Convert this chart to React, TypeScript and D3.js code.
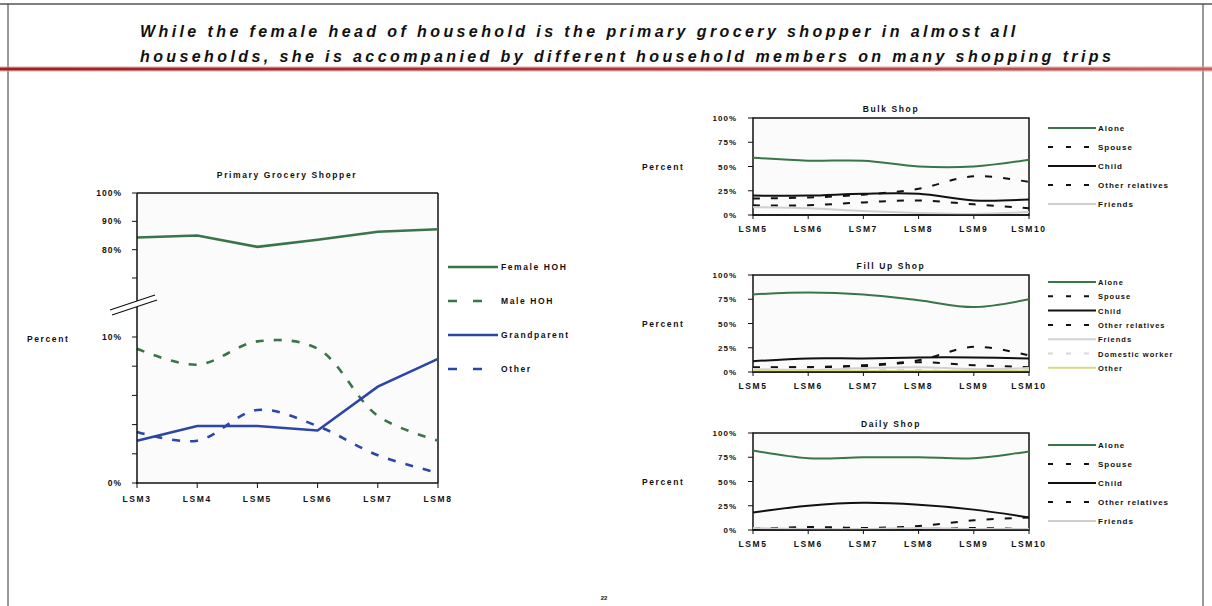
import React from 'react';
import * as d3 from 'd3';

// ---- Primary grocery shopper (LSM3 – LSM8) ----
const lsmLeft = ['LSM3', 'LSM4', 'LSM5', 'LSM6', 'LSM7', 'LSM8'];
const femaleHOH = [84.3, 85, 81, 83.5, 86.3, 87.2];
const maleHOH = [9.2, 8.1, 9.7, 9.2, 4.6, 2.9];
const grandparent = [2.9, 3.9, 3.9, 3.6, 6.6, 8.5];
const otherShopper = [3.5, 2.9, 5.0, 3.9, 1.9, 0.7];
const leftUpperTicks = [100, 90, 80, 70];
const leftUpperLabels = ['100%', '90%', '80%', ''];
const leftLowerTicks = [10, 8, 6, 4, 2, 0];
const leftLowerLabels = ['10%', '', '', '', '', '0%'];

// ---- Shopping companions (LSM5 – LSM10) ----
const lsmRight = ['LSM5', 'LSM6', 'LSM7', 'LSM8', 'LSM9', 'LSM10'];
const pctTicks = [0, 25, 50, 75, 100];

const bulkAlone = [59, 56, 56, 50, 50, 57];
const bulkSpouse = [17, 18, 21, 27, 40, 34];
const bulkChild = [20, 20, 22, 22, 15, 16];
const bulkOtherRelatives = [10, 10, 13, 15, 11, 7];
const bulkFriends = [8, 7, 4, 2, 1, 3];

const fillAlone = [80, 82, 80, 74, 67, 75];
const fillSpouse = [5, 5, 7, 12, 26, 17];
const fillChild = [11, 14, 14, 15, 15, 14];
const fillOtherRelatives = [4, 5, 6, 10, 7, 5];
const fillFriends = [3, 2, 4, 5, 3, 4];
const fillDomestic = [3, 3, 2, 2, 1, 2];
const fillOther = [1, 1, 1, 1, 1, 1];

const dailyAlone = [82, 74, 75, 75, 74, 81];
const dailySpouse = [2, 2, 2, 4, 10, 13];
const dailyChild = [18, 25, 28, 26, 21, 13];
const dailyOtherRelatives = [1, 3, 2, 1, 2, 1];
const dailyFriends = [2, 1, 1, 2, 1, 1];

const headline = [
  'While the female head of household is the primary grocery shopper in almost all',
  'households, she is accompanied by different household members on many shopping trips',
];

const GREEN = '#3a7549';
const BLUE = '#2b46a6';
const BLACK = '#111';
const FONT = '"Liberation Sans", Arial, sans-serif';

type Series = {
  name: string;
  values: number[];
  color: string;
  width: number;
  dash?: string;
  smooth?: boolean;
};

const labelStyle = {
  fontFamily: FONT,
  fontWeight: 700,
  fill: '#111',
} as const;

function LeftChart() {
  const x = d3.scalePoint<string>().domain(lsmLeft).range([137, 438]);
  const yUpper = d3.scaleLinear().domain([70, 100]).range([278, 193]);
  const yLower = d3.scaleLinear().domain([0, 10]).range([483, 337]);
  const yOf = (v: number) => (v >= 50 ? yUpper(v) : yLower(v));

  const series: Series[] = [
    { name: 'Female HOH', values: femaleHOH, color: GREEN, width: 2.6 },
    { name: 'Male HOH', values: maleHOH, color: GREEN, width: 2.6, dash: '8,10', smooth: true },
    { name: 'Grandparent', values: grandparent, color: BLUE, width: 2.6 },
    { name: 'Other', values: otherShopper, color: BLUE, width: 2.6, dash: '8,10', smooth: true },
  ];

  const legendY = [267, 301, 335, 369];

  return (
    <g>
      <text x={287} y={178} textAnchor="middle" fontSize={8.5} letterSpacing={1.6} style={labelStyle}>
        Primary Grocery Shopper
      </text>
      {/* plot frame */}
      <rect x={137} y={193} width={301} height={290} fill="#fbfbfb" stroke="none" />
      <line x1={137} y1={193} x2={438} y2={193} stroke={BLACK} strokeWidth={1.5} />
      <line x1={438} y1={193} x2={438} y2={483} stroke={BLACK} strokeWidth={1.5} />
      {series.map((s) => {
        const gen = d3
          .line<number>()
          .x((_, i) => x(lsmLeft[i]) as number)
          .y((v) => yOf(v))
          .curve(s.smooth ? d3.curveCatmullRom.alpha(0.5) : d3.curveLinear);
        return (
          <path
            key={s.name}
            d={gen(s.values) || ''}
            fill="none"
            stroke={s.color}
            strokeWidth={s.width}
            strokeDasharray={s.dash}
          />
        );
      })}
      {/* axes */}
      <line x1={137} y1={193} x2={137} y2={484} stroke={BLACK} strokeWidth={1.5} />
      <line x1={136} y1={483} x2={438} y2={483} stroke={BLACK} strokeWidth={1.5} />
      {leftUpperTicks.map((t, i) => (
        <g key={'u' + t}>
          <line x1={132} x2={137} y1={yUpper(t)} y2={yUpper(t)} stroke={BLACK} strokeWidth={1} />
          {leftUpperLabels[i] && (
            <text x={122} y={yUpper(t) + 3} textAnchor="end" fontSize={8.5} letterSpacing={1} style={labelStyle}>
              {leftUpperLabels[i]}
            </text>
          )}
        </g>
      ))}
      {leftLowerTicks.map((t, i) => (
        <g key={'l' + t}>
          <line x1={132} x2={137} y1={yLower(t)} y2={yLower(t)} stroke={BLACK} strokeWidth={1} />
          {leftLowerLabels[i] && (
            <text x={122} y={yLower(t) + 3} textAnchor="end" fontSize={8.5} letterSpacing={1} style={labelStyle}>
              {leftLowerLabels[i]}
            </text>
          )}
        </g>
      ))}
      {lsmLeft.map((c) => (
        <g key={c}>
          <line x1={x(c)} x2={x(c)} y1={483} y2={488} stroke={BLACK} strokeWidth={1} />
          <text x={x(c)} y={502} textAnchor="middle" fontSize={8.5} letterSpacing={1.6} style={labelStyle}>
            {c}
          </text>
        </g>
      ))}
      <text x={27} y={342} fontSize={8.5} letterSpacing={1.6} style={labelStyle}>
        Percent
      </text>
      {/* axis break */}
      <polygon points="110,310 155,295 157,300 112,315" fill="#fff" />
      <line x1={110} y1={310} x2={155} y2={295} stroke={BLACK} strokeWidth={1.2} />
      <line x1={112} y1={315} x2={157} y2={300} stroke={BLACK} strokeWidth={1.2} />
      {/* legend */}
      {series.map((s, i) => (
        <g key={'lg' + s.name}>
          <line
            x1={448}
            x2={498}
            y1={legendY[i]}
            y2={legendY[i]}
            stroke={s.color}
            strokeWidth={2.6}
            strokeDasharray={s.dash ? '9,16' : undefined}
          />
          <text x={501} y={legendY[i] + 3} fontSize={8.5} letterSpacing={1.6} style={labelStyle}>
            {s.name}
          </text>
        </g>
      ))}
    </g>
  );
}

type SmallChartProps = {
  title: string;
  top: number;
  series: Series[];
  legendTop: number;
  legendStep: number;
  legendFont: number;
};

function SmallChart({ title, top, series, legendTop, legendStep, legendFont }: SmallChartProps) {
  const left = 753;
  const right = 1029;
  const plotTop = top + 9;
  const plotBottom = top + 106;
  const x = d3.scalePoint<string>().domain(lsmRight).range([left, right]);
  const y = d3.scaleLinear().domain([0, 100]).range([plotBottom, plotTop]);

  return (
    <g>
      <text x={(left + right) / 2} y={top + 3} textAnchor="middle" fontSize={8.5} letterSpacing={1.6} style={labelStyle}>
        {title}
      </text>
      <rect x={left} y={plotTop} width={right - left} height={plotBottom - plotTop} fill="#fbfbfb" stroke={BLACK} strokeWidth={1.5} />
      {series.map((s) => {
        const gen = d3
          .line<number>()
          .x((_, i) => x(lsmRight[i]) as number)
          .y((v) => y(v))
          .curve(d3.curveCatmullRom.alpha(0.5));
        return (
          <path
            key={s.name}
            d={gen(s.values) || ''}
            fill="none"
            stroke={s.color}
            strokeWidth={s.width}
            strokeDasharray={s.dash}
          />
        );
      })}
      <line x1={left} y1={plotBottom} x2={right} y2={plotBottom} stroke={BLACK} strokeWidth={1.5} />
      {pctTicks.map((t) => (
        <g key={t}>
          <line x1={left - 5} x2={left} y1={y(t)} y2={y(t)} stroke={BLACK} strokeWidth={1} />
          <text x={left - 16} y={y(t) + 3} textAnchor="end" fontSize={8} letterSpacing={1} style={labelStyle}>
            {t + '%'}
          </text>
        </g>
      ))}
      {lsmRight.map((c) => (
        <g key={c}>
          <line x1={x(c)} x2={x(c)} y1={plotBottom} y2={plotBottom + 4} stroke={BLACK} strokeWidth={1} />
          <text x={x(c)} y={plotBottom + 17} textAnchor="middle" fontSize={8.5} letterSpacing={1.6} style={labelStyle}>
            {c}
          </text>
        </g>
      ))}
      <text x={642} y={y(50) + 3} fontSize={8.5} letterSpacing={1.6} style={labelStyle}>
        Percent
      </text>
      {/* legend */}
      {series.map((s, i) => {
        const ly = legendTop + i * legendStep;
        return (
          <g key={'lg' + s.name}>
            <line
              x1={1048}
              x2={1096}
              y1={ly}
              y2={ly}
              stroke={s.color}
              strokeWidth={s.width}
              strokeDasharray={s.dash ? '5,13' : undefined}
            />
            <text x={1098} y={ly + 3} fontSize={legendFont} letterSpacing={1} style={labelStyle}>
              {s.name}
            </text>
          </g>
        );
      })}
    </g>
  );
}

const DASH = '7,11';

export default function App() {
  const bulk: Series[] = [
    { name: 'Alone', values: bulkAlone, color: GREEN, width: 2 },
    { name: 'Spouse', values: bulkSpouse, color: BLACK, width: 2, dash: DASH },
    { name: 'Child', values: bulkChild, color: BLACK, width: 2 },
    { name: 'Other relatives', values: bulkOtherRelatives, color: BLACK, width: 2, dash: DASH },
    { name: 'Friends', values: bulkFriends, color: '#cfcfcf', width: 2 },
  ];
  const fill: Series[] = [
    { name: 'Alone', values: fillAlone, color: GREEN, width: 2 },
    { name: 'Spouse', values: fillSpouse, color: BLACK, width: 2, dash: DASH },
    { name: 'Child', values: fillChild, color: BLACK, width: 2 },
    { name: 'Other relatives', values: fillOtherRelatives, color: BLACK, width: 2, dash: DASH },
    { name: 'Friends', values: fillFriends, color: '#d2d2d2', width: 2 },
    { name: 'Domestic worker', values: fillDomestic, color: '#d8d8d8', width: 2, dash: DASH },
    { name: 'Other', values: fillOther, color: '#d9d98a', width: 2 },
  ];
  const daily: Series[] = [
    { name: 'Alone', values: dailyAlone, color: GREEN, width: 2 },
    { name: 'Spouse', values: dailySpouse, color: BLACK, width: 2, dash: DASH },
    { name: 'Child', values: dailyChild, color: BLACK, width: 2 },
    { name: 'Other relatives', values: dailyOtherRelatives, color: BLACK, width: 2, dash: DASH },
    { name: 'Friends', values: dailyFriends, color: '#cfcfcf', width: 2 },
  ];

  return (
    <svg
      width={1212}
      height={606}
      viewBox="0 0 1212 606"
      style={{ position: 'absolute', left: 0, top: 0, background: '#fff' }}
    >
      <defs>
        <linearGradient id="rule" gradientUnits="userSpaceOnUse" x1={0} x2={1212} y1={0} y2={0}>
          <stop offset="0" stopColor="#a01f1f" />
          <stop offset="0.6" stopColor="#b33c3c" />
          <stop offset="1" stopColor="#c46060" />
        </linearGradient>
      </defs>
      {/* page frame */}
      <line x1={0} y1={4} x2={1212} y2={4} stroke="#555" strokeWidth={1.5} />
      <line x1={8} y1={4} x2={8} y2={606} stroke="#333" strokeWidth={1} />
      <line x1={1203} y1={4} x2={1203} y2={606} stroke="#333" strokeWidth={1} />
      {/* headline */}
      {headline.map((line, i) => (
        <text
          key={i}
          x={140}
          y={37 + i * 25}
          fontSize={16}
          fontStyle="italic"
          letterSpacing={3.4}
          style={labelStyle}
        >
          {line}
        </text>
      ))}
      <line x1={0} y1={69} x2={1212} y2={69} stroke="#dba5a5" strokeWidth={5.5} opacity={0.6} />
      <line x1={0} y1={69} x2={1212} y2={69} stroke="url(#rule)" strokeWidth={3.2} />

      <LeftChart />
      <SmallChart title="Bulk Shop" top={109} series={bulk} legendTop={128} legendStep={19} legendFont={8} />
      <SmallChart title="Fill Up Shop" top={266} series={fill} legendTop={282} legendStep={14.3} legendFont={7.5} />
      <SmallChart title="Daily Shop" top={424} series={daily} legendTop={445} legendStep={19} legendFont={8} />

      <text x={604} y={600} textAnchor="middle" fontSize={6} style={labelStyle}>
        22
      </text>
    </svg>
  );
}
